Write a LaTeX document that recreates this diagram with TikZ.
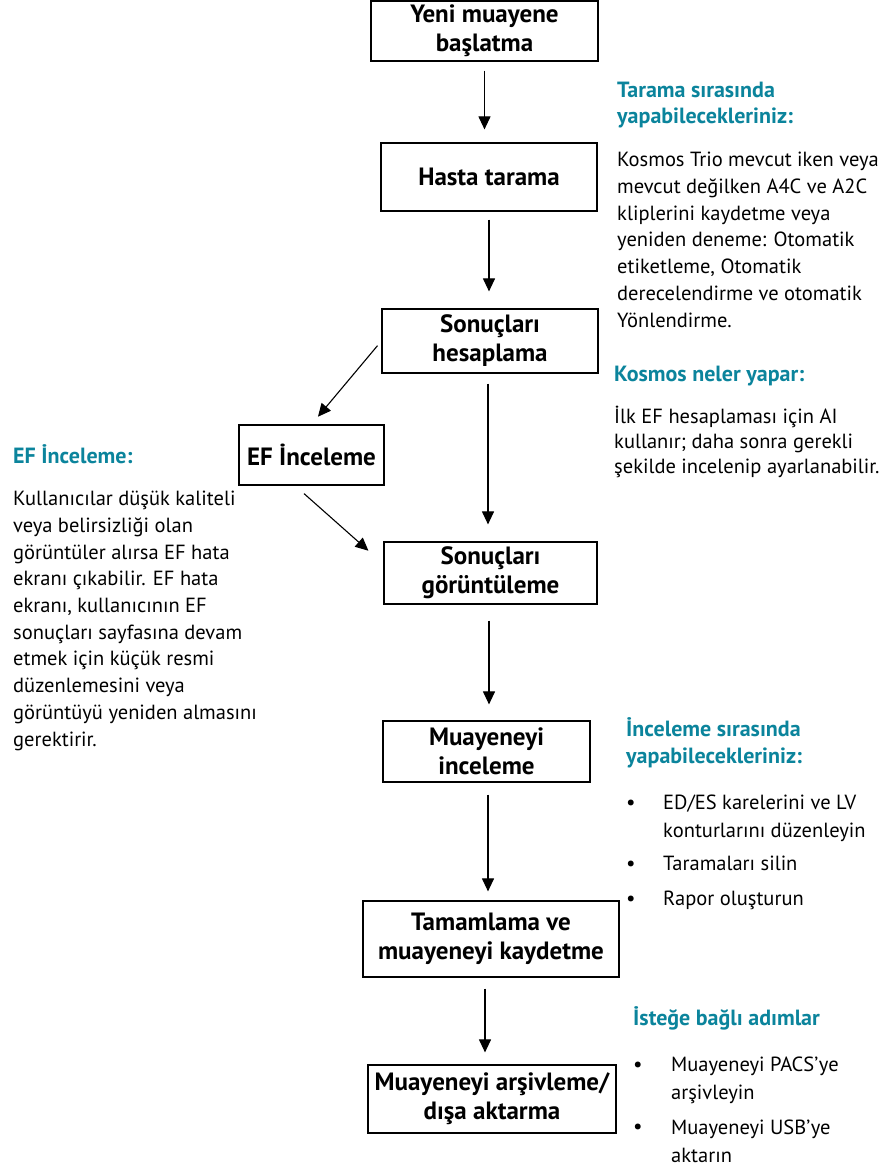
\documentclass[tikz,border=0pt]{standalone}
\usepackage{fontspec}
\setmainfont{PT Sans}
\usetikzlibrary{positioning,arrows.meta}
\definecolor{kosTeal}{HTML}{0B849C}
\tikzset{
  stepbox/.style={draw=black, line width=1.2pt, align=center, inner sep=0pt,
    font=\bfseries\fontsize{25}{29}\selectfont},
  flowarr/.style={-{Triangle[length=13pt,width=12pt]}, line width=1.1pt,
    shorten <=10pt, shorten >=14pt},
  % multi-line notes are anchored at the baseline of their LAST line
  headtxt/.style={anchor=base west, inner sep=0pt, align=left, text=kosTeal,
    font=\bfseries\fontsize{22}{26}\selectfont},
  bodytxt/.style={anchor=base west, inner sep=0pt, align=left,
    font=\fontsize{20.5}{26.7}\selectfont},
  listtxt/.style={bodytxt, font=\fontsize{20.5}{28}\selectfont},
  dotmark/.style={anchor=base west, inner sep=0pt, font=\fontsize{21}{26}\selectfont},
}

\begin{document}
\begin{tikzpicture}[x=1pt,y=1pt]
\useasboundingbox (0,0) rectangle (885,-1168);

% --- flow boxes -------------------------------------------------------------
\node[stepbox, minimum width=227pt, minimum height=60pt] (yeni)  at (484.5,-31)  {Yeni muayene\\başlatma};
\node[stepbox, minimum width=216pt, minimum height=68pt] (hasta) at (489,-177)   {Hasta tarama};
\node[stepbox, minimum width=216pt, minimum height=64pt] (hesap) at (490,-341)   {Sonuçları\\hesaplama};
\node[stepbox, minimum width=145pt, minimum height=60pt] (efinc) at (311.5,-455) {EF İnceleme};
\node[stepbox, minimum width=213pt, minimum height=62pt] (gorun) at (490.5,-573) {Sonuçları\\görüntüleme};
\node[stepbox, minimum width=207pt, minimum height=61pt] (incel) at (486.5,-751.5) {Muayeneyi\\inceleme};
\node[stepbox, minimum width=256pt, minimum height=76pt] (tamam) at (491,-939)   {Tamamlama ve\\muayeneyi kaydetme};
\node[stepbox, minimum width=248pt, minimum height=68pt] (arsiv) at (492,-1099)  {Muayeneyi arşivleme/\\dışa aktarma};

% --- connectors -------------------------------------------------------------
\draw[flowarr, shorten <=9pt, shorten >=13pt] (yeni.south) -- (yeni.south |- hasta.north);
\draw[flowarr, shorten <=8pt, shorten >=17pt] (hasta.south) -- (hasta.south |- hesap.north);
\draw[flowarr, shorten >=17pt] ([xshift=-2pt]hesap.south) -- ([xshift=-2pt]hesap.south |- gorun.north);
\draw[flowarr, shorten <=16pt, shorten >=16pt] ([xshift=-1.5pt]gorun.south) -- ([xshift=-1.5pt]gorun.south |- incel.north);
\draw[flowarr, shorten <=12pt, shorten >=9pt] ([xshift=1.5pt]incel.south) -- ([xshift=1.5pt]incel.south |- tamam.north);
\draw[flowarr, shorten <=11pt, shorten >=12pt] ([xshift=-6pt]tamam.south) -- ([xshift=-6pt]tamam.south |- arsiv.north);
% side branch through EF review
\draw[flowarr, shorten <=6pt, shorten >=10pt] (hesap.west) -- (efinc.north);
\draw[flowarr, shorten <=12pt, shorten >=20pt] ([xshift=-16.5pt]efinc.south) -- ([yshift=9pt]gorun.west);

% --- notes: scanning --------------------------------------------------------
\node[headtxt] (tarhead) at (617,-123) {Tarama sırasında\\yapabilecekleriniz:};
\node[bodytxt] (tarbody) at (617,-327) {Kosmos Trio mevcut iken veya\\mevcut değilken A4C ve A2C\\kliplerini kaydetme veya\\yeniden deneme: Otomatik\\etiketleme, Otomatik\\derecelendirme ve otomatik\\Yönlendirme.};

% --- notes: what Kosmos does ------------------------------------------------
\node[headtxt] (koshead) at (614,-381) {Kosmos neler yapar:};
\node[bodytxt, font=\fontsize{20.5}{25}\selectfont] (kosbody) at (614,-473) {İlk EF hesaplaması için AI\\kullanır; daha sonra gerekli\\şekilde incelenip ayarlanabilir.};

% --- notes: EF review -------------------------------------------------------
\node[headtxt] (efhead) at (13,-463) {EF İnceleme:};
\node[bodytxt] (efbody) at (13,-746) {Kullanıcılar düşük kaliteli\\veya belirsizliği olan\\görüntüler alırsa EF hata\\ekranı çıkabilir. EF hata\\ekranı, kullanıcının EF\\sonuçları sayfasına devam\\etmek için küçük resmi\\düzenlemesini veya\\görüntüyü yeniden almasını\\gerektirir.};

% --- notes: during review ---------------------------------------------------
\node[headtxt, font=\bfseries\fontsize{22}{27}\selectfont] (inchead) at (626,-763) {İnceleme sırasında\\yapabilecekleriniz:};
\node[dotmark] (incdot1) at (626,-809) {•};
\node[listtxt] (incitem1) at (663,-837) {ED/ES karelerini ve LV\\konturlarını düzenleyin};
\node[dotmark] (incdot2) at (626,-870) {•};
\node[listtxt] (incitem2) at (663,-870) {Taramaları silin};
\node[dotmark] (incdot3) at (626,-905) {•};
\node[listtxt] (incitem3) at (663,-905) {Rapor oluşturun};

% --- notes: optional steps --------------------------------------------------
\node[headtxt] (isthead) at (633,-1025) {İsteğe bağlı adımlar};
\node[dotmark] (istdot1) at (633,-1071) {•};
\node[listtxt] (istitem1) at (671,-1099) {Muayeneyi PACS’ye\\arşivleyin};
\node[dotmark] (istdot2) at (633,-1133) {•};
\node[listtxt] (istitem2) at (671,-1162) {Muayeneyi USB’ye\\aktarın};

\end{tikzpicture}
\end{document}
